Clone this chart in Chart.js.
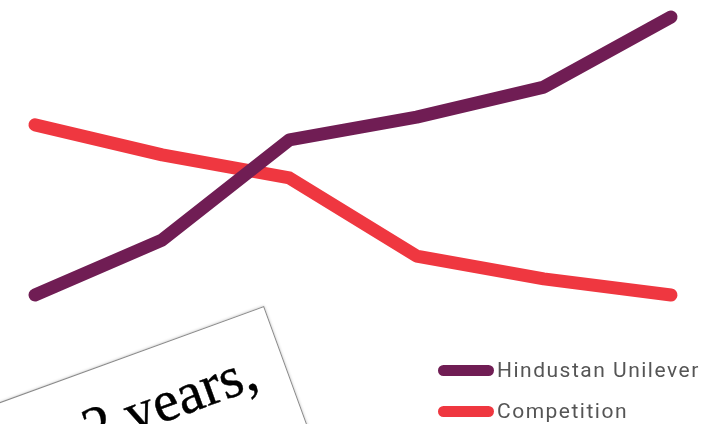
<!DOCTYPE html>
<html>
<head>
<meta charset="utf-8">
<script src="https://cdn.jsdelivr.net/npm/chart.js@4"></script>
<style>
html,body{margin:0;padding:0;background:#fff;overflow:hidden;}
#wrap{position:relative;width:705px;height:424px;}
#chart{position:absolute;left:0;top:0;}
.paper{position:absolute;left:-138px;top:306px;width:400px;height:300px;background:#fff;
border:1px solid #8a8a8a;box-shadow:0 0 3px rgba(0,0,0,.25);transform-origin:top right;transform:rotate(-20deg);}
.paper span{position:absolute;right:30px;top:22px;font-family:"Liberation Serif",serif;font-size:58px;color:#000;line-height:66px;white-space:nowrap;-webkit-text-stroke:0.4px #000;}
.legend{position:absolute;left:438px;font-family:Roboto,sans-serif;font-size:21px;letter-spacing:1.5px;color:#555;}
.legend div{display:flex;align-items:center;height:22px;margin-bottom:19px;}
.legend i{display:inline-block;width:56px;height:11px;border-radius:6px;margin-right:3px;}
</style>
</head>
<body>
<div id="wrap">
<div class="paper"><span>2 years,</span></div>
<canvas id="chart" width="705" height="424"></canvas>
<div class="legend" id="legend" style="top:359px"></div>
</div>
<script>
const labels=["1","2","3","4","5","6"]
const hul=[0,19.8,55.8,64.0,74.8,100]
const competition=[61.2,50.4,42.1,14.0,5.8,0]
const seriesNames=["Hindustan Unilever","Competition"]
const colors=["#701d54","#ef3740"]

new Chart(document.getElementById("chart"),{
type:"line",
data:{
labels:labels,
datasets:[{
label:seriesNames[0],
data:hul,
borderColor:colors[0],
borderWidth:13,
borderCapStyle:"round",
borderJoinStyle:"round",
pointRadius:0,
tension:0,
clip:false
},{
label:seriesNames[1],
data:competition,
borderColor:colors[1],
borderWidth:13,
borderCapStyle:"round",
borderJoinStyle:"round",
pointRadius:0,
tension:0,
clip:false
}]
},
options:{
responsive:false,
animation:false,
layout:{padding:{left:35,right:34,top:17,bottom:129}},
plugins:{legend:{display:false},tooltip:{enabled:false}},
scales:{
x:{display:false,offset:false},
y:{display:false,min:0,max:100}
}
}
})

const legend=document.getElementById("legend")
seriesNames.forEach((n,i)=>{
legend.innerHTML+=`<div><i style="background:${colors[i]}"></i>${n}</div>`
})
</script>
</body>
</html>
